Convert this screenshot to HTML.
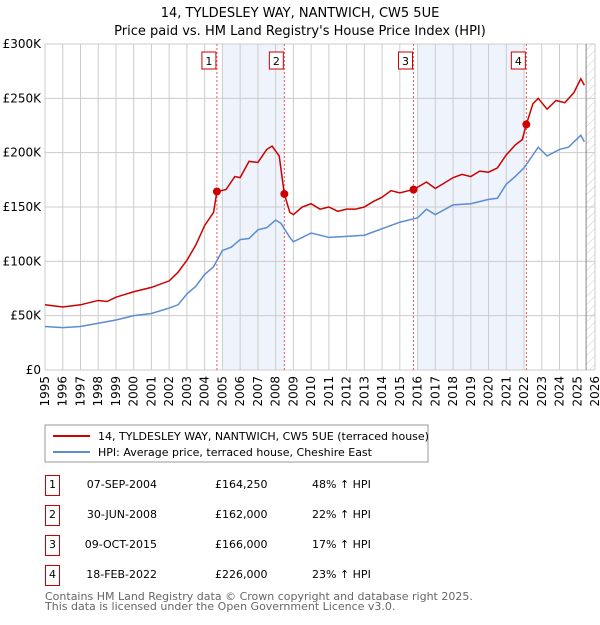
<!DOCTYPE html>
<html><head><meta charset="utf-8"><style>
body{margin:0;background:#fff;font-family:"Liberation Sans",sans-serif;}
svg text{font-family:"DejaVu Sans","Liberation Sans",sans-serif;}
</style></head><body>
<svg width="600" height="620" xmlns="http://www.w3.org/2000/svg">
<defs><pattern id="hatch" width="6" height="6" patternUnits="userSpaceOnUse" patternTransform="rotate(45)"><line x1="0" y1="0" x2="0" y2="6" stroke="#ccc" stroke-width="1"/></pattern></defs>
<text x="300" y="17" text-anchor="middle" font-size="13">14, TYLDESLEY WAY, NANTWICH, CW5 5UE</text>
<text x="300" y="35" text-anchor="middle" font-size="13">Price paid vs. HM Land Registry's House Price Index (HPI)</text>
<g id="plot"></g>
<g>
<rect x="45" y="425" width="383" height="37" fill="#fff" stroke="#999"/>
<line x1="53" y1="436" x2="90" y2="436" stroke="#cc0000" stroke-width="2"/>
<text x="98" y="440" font-size="11">14, TYLDESLEY WAY, NANTWICH, CW5 5UE (terraced house)</text>
<line x1="53" y1="452" x2="90" y2="452" stroke="#5b8dd0" stroke-width="2"/>
<text x="98" y="456" font-size="11">HPI: Average price, terraced house, Cheshire East</text>
</g>
<g id="table" font-size="11"></g>
<text x="45" y="600" font-size="11" fill="#666">Contains HM Land Registry data © Crown copyright and database right 2025.</text>
<text x="45" y="610" font-size="11" fill="#666">This data is licensed under the Open Government Licence v3.0.</text>
</svg>
<script>
const years=[1995,1996,1997,1998,1999,2000,2001,2002,2003,2004,2005,2006,2007,2008,2009,2010,2011,2012,2013,2014,2015,2016,2017,2018,2019,2020,2021,2022,2023,2024,2025,2026];
const yTicks=[0,50,100,150,200,250,300];
const yTickLabels=["£0","£50K","£100K","£150K","£200K","£250K","£300K"];
const redT=[1995,1996,1997,1998,1998.5,1999,2000,2001,2002,2002.5,2003,2003.5,2004,2004.5,2004.69,2005.2,2005.7,2006,2006.5,2007,2007.5,2007.8,2008.2,2008.49,2008.8,2009,2009.5,2010,2010.5,2011,2011.5,2012,2012.5,2013,2013.5,2014,2014.5,2015,2015.5,2015.77,2016.5,2017,2017.5,2018,2018.5,2019,2019.5,2020,2020.5,2021,2021.5,2021.9,2022.13,2022.5,2022.8,2023.3,2023.8,2024.3,2024.8,2025.2,2025.4];
const redV=[60,58,60,64,63,67,72,76,82,90,101,115,133,145,164.25,166,178,177,192,191,203,206,197,162,145,143,150,153,148,150,146,148,148,150,155,159,165,163,165,166,173,167,172,177,180,178,183,182,186,198,207,212,226,245,250,240,248,246,255,268,262];
const blueT=[1995,1996,1997,1998,1999,2000,2001,2002,2002.5,2003,2003.5,2004,2004.5,2005,2005.5,2006,2006.5,2007,2007.5,2008,2008.3,2008.8,2009,2010,2011,2012,2013,2014,2015,2016,2016.5,2017,2018,2019,2020,2020.5,2021,2021.5,2022,2022.8,2023.3,2024,2024.5,2025.2,2025.4];
const blueV=[40,39,40,43,46,50,52,57,60,70,77,88,95,110,113,120,121,129,131,138,135,122,118,126,122,123,124,130,136,140,148,143,152,153,157,158,171,178,186,205,197,203,205,216,210];
const saleT=[2004.69,2008.49,2015.77,2022.13];
const saleV=[164.25,162,166,226];
const saleDates=["07-SEP-2004","30-JUN-2008","09-OCT-2015","18-FEB-2022"];
const salePrices=["£164,250","£162,000","£166,000","£226,000"];
const saleHpi=["48% ↑ HPI","22% ↑ HPI","17% ↑ HPI","23% ↑ HPI"];
const ns="http://www.w3.org/2000/svg";
const L=45,R=595,T=44,B=370;
const x=t=>L+(t-1995)/(2026-1995)*(R-L);
const y=v=>B-v/300*(B-T);
const g=document.getElementById('plot');
function mk(tag,attrs,parent){const e=document.createElementNS(ns,tag);for(const k in attrs)e.setAttribute(k,attrs[k]);(parent||g).appendChild(e);return e;}
let e;
e=mk('rect',{x:x(2005),y:T,width:x(2008.5)-x(2005),height:B-T,fill:'#eef3fc'});

e=mk('rect',{x:x(2016),y:T,width:x(2022)-x(2016),height:B-T,fill:'#eef3fc'});

e=mk('rect',{x:x(2025.5),y:T,width:R-x(2025.5),height:B-T,fill:'url(#hatch)'});

years.forEach(yr=>{e=mk('line',{x1:x(yr),x2:x(yr),y1:T,y2:B,stroke:'#ccc'});

e=mk('text',{x:0,y:0,'font-size':12,'text-anchor':'end',transform:`translate(${x(yr)+4},${B+6}) rotate(-90)`});e.textContent=yr;
});
yTicks.forEach((v,i)=>{e=mk('line',{x1:L,x2:R,y1:y(v),y2:y(v),stroke:'#ccc'});

e=mk('text',{x:L-4,y:y(v)+4,'font-size':12,'text-anchor':'end'});e.textContent=yTickLabels[i];
});
e=mk('line',{x1:x(2025.5),x2:x(2025.5),y1:T,y2:B,stroke:'#888'});

saleT.forEach((t,i)=>{e=mk('line',{x1:x(t),x2:x(t),y1:T,y2:B,stroke:'#e55','stroke-dasharray':'2,2'});

e=mk('rect',{x:x(t)-15,y:52,width:14,height:17,fill:'#fff',stroke:'#c00'});

e=mk('text',{x:x(t)-8,y:65,'font-size':11,'text-anchor':'middle'});e.textContent=i+1;
});
e=mk('polyline',{points:blueT.map((t,i)=>x(t)+','+y(blueV[i])).join(' '),fill:'none',stroke:'#5b8dd0','stroke-width':1.5});

e=mk('polyline',{points:redT.map((t,i)=>x(t)+','+y(redV[i])).join(' '),fill:'none',stroke:'#cc0000','stroke-width':1.5});

saleT.forEach((t,i)=>{e=mk('circle',{cx:x(t),cy:y(saleV[i]),r:4,fill:'#cc0000'});
});
const tb=document.getElementById('table');
saleDates.forEach((d,i)=>{const yy=483+i*30;
e=mk('rect',{x:45.5,y:yy-7.5,width:14,height:20,fill:'#fff',stroke:'#c00'},tb);

e=mk('text',{x:52.5,y:yy+5,'text-anchor':'middle'},tb);e.textContent=i+1;

e=mk('text',{x:157,y:yy+5,'text-anchor':'end'},tb);e.textContent=d;

e=mk('text',{x:215,y:yy+5},tb);e.textContent=salePrices[i];

e=mk('text',{x:312,y:yy+5},tb);e.textContent=saleHpi[i];
});
</script>
</body></html>
